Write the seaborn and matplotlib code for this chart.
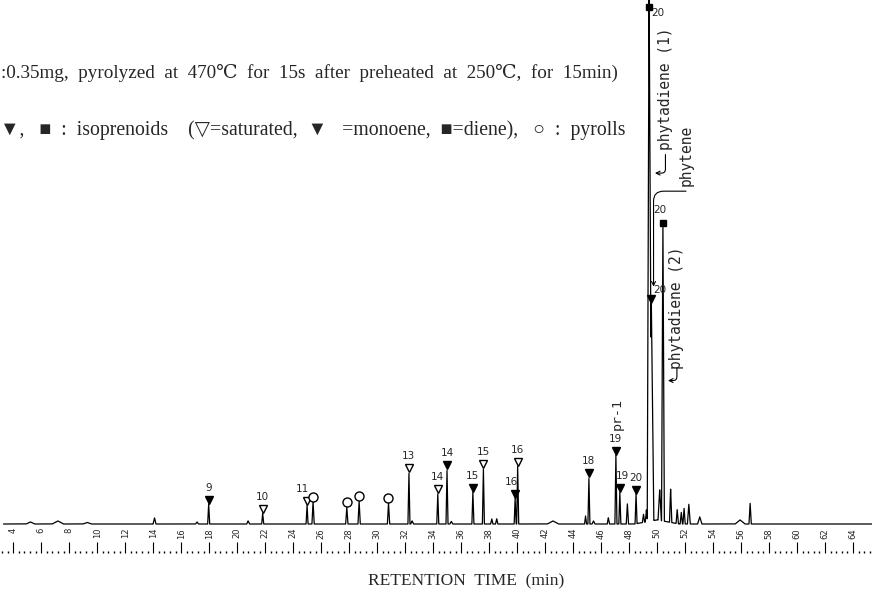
import numpy as np
import pandas as pd
import matplotlib
matplotlib.use("Agg")
import matplotlib.pyplot as plt
import seaborn as sns
from matplotlib.ticker import MultipleLocator

# ---- data (retention time in min, relative abundance %) ----
peak_rt = [5.22, 7.18, 9.28, 14.09, 17.13, 17.96, 20.78, 21.82, 24.99, 25.42,
           27.83, 28.71, 30.81, 32.27, 32.50, 34.33, 34.99, 35.30, 36.84, 37.59,
           38.19, 38.54, 39.86, 40.04, 42.56, 44.89, 45.13, 45.46, 46.52, 47.06,
           47.34, 47.88, 48.50, 49.03, 49.24, 49.43, 49.59, 50.19, 50.42, 50.97,
           51.44, 51.73, 51.93, 52.27, 53.05, 55.93, 56.65, 50.00]
peak_height = [0.4, 0.6, 0.3, 1.2, 0.4, 3.9, 0.6, 2.1, 3.7, 4.3,
               3.3, 4.5, 4.1, 10.1, 0.6, 6.0, 10.7, 0.5, 6.2, 10.9,
               1.0, 1.0, 5.0, 11.2, 0.6, 1.6, 9.1, 0.6, 1.2, 13.4,
               6.2, 3.9, 5.8, 1.6, 2.3, 99.6, 42.8, 6.0, 57.7, 6.6,
               2.7, 2.3, 3.1, 3.9, 1.4, 0.8, 4.1, 0.8]
peak_width = [0.3, 0.4, 0.3, 0.1, 0.1, 0.07, 0.1, 0.07, 0.07, 0.08,
              0.08, 0.08, 0.08, 0.07, 0.1, 0.07, 0.07, 0.1, 0.07, 0.07,
              0.08, 0.08, 0.07, 0.07, 0.4, 0.07, 0.07, 0.1, 0.08, 0.07,
              0.07, 0.08, 0.07, 0.08, 0.08, 0.13, 0.18, 0.12, 0.1, 0.08,
              0.08, 0.08, 0.08, 0.1, 0.15, 0.35, 0.08, 1.6]

# identified peaks: marker kind and carbon-number label
mark_rt = [17.96, 21.82, 24.99, 25.42, 27.83, 28.71, 30.81, 32.27, 34.33, 34.99,
           36.84, 37.59, 39.86, 40.04, 45.13, 47.06, 47.34, 48.50, 49.43, 49.59, 50.42]
mark_height = [3.9, 2.1, 3.7, 4.3, 3.3, 4.5, 4.1, 10.1, 6.0, 10.7,
               6.2, 10.9, 5.0, 11.2, 9.1, 13.4, 6.2, 5.8, 99.6, 42.8, 57.7]
mark_kind = ["mono", "sat", "sat", "pyr", "pyr", "pyr", "pyr", "sat", "sat", "mono",
             "mono", "sat", "mono", "sat", "mono", "mono", "mono", "mono", "diene", "mono", "diene"]
mark_label = ["9", "10", "11", "", "", "", "", "13", "14", "14",
              "15", "15", "16", "16", "18", "19", "19", "20", "20", "20", "20"]

tick_values = list(range(4, 66, 2))
tick_labels = [str(v) for v in tick_values]

# ---- figure ----
sns.set_style("white")
plt.rcParams["font.family"] = ["Liberation Serif", "DejaVu Serif", "DejaVu Sans"]

W, H = 872, 592
fig = plt.figure(figsize=(W / 100, H / 100), dpi=100)
ax = fig.add_axes([0, 39 / H, 1, 553 / H])
ax.set_xlim(3.05, 65.36)
ax.set_ylim(-5.62, 101.55)

t = np.arange(3.3, 65.36, 0.004)
sig = np.zeros_like(t)
for rt, h, w in zip(peak_rt, peak_height, peak_width):
    sig += np.clip(h * (1 - np.abs(t - rt) / w), 0, None)
df = pd.DataFrame({"rt": t, "abundance": sig})
sns.lineplot(data=df, x="rt", y="abundance", color="black", lw=0.9,
             ax=ax, estimator=None, sort=False)

# markers
styles = {
    "sat": dict(marker="v", mfc="white", ms=5.5, off=0.75),
    "mono": dict(marker="v", mfc="black", ms=5.5, off=0.75),
    "diene": dict(marker="s", mfc="black", ms=4.0, off=0.55),
    "pyr": dict(marker="o", mfc="white", ms=6.5, off=1.0),
}
label_offsets = {2: (-3, 3), 12: (-3, 3), 16: (2, 3), 18: (6, -10), 19: (6, 1), 20: (-2, 4)}
for i, (rt, h, kind, lab) in enumerate(zip(mark_rt, mark_height, mark_kind, mark_label)):
    st = styles[kind]
    ym = h + st["off"]
    ax.plot([rt], [ym], ls="none", marker=st["marker"], mfc=st["mfc"], mec="black",
            mew=1.0, ms=st["ms"])
    if lab:
        dx, dy = label_offsets.get(i, (0, 3))
        ax.annotate(lab, (rt, ym), xytext=(dx, dy + 2), textcoords="offset points",
                    ha="center", va="bottom", fontsize=7.5, family="DejaVu Sans")

# name labels with hook arrows
mono = dict(family="DejaVu Sans Mono", fontsize=10.5, rotation=90, ha="center", va="center")
ax.text(47.14, 21.3, "pr-1", family="DejaVu Sans Mono", fontsize=9.5, rotation=90,
        ha="center", va="center")
ax.text(50.60, 84.3, "phytadiene (1)", **mono)
ax.text(52.07, 71.5, "phytene", **mono)
ax.text(51.42, 41.9, "phytadiene (2)", **mono)
arrow = dict(arrowstyle="->", lw=0.8, color="black", shrinkA=0, shrinkB=0,
             mutation_scale=7)
ax.annotate("", xy=(49.85, 68.0), xytext=(50.60, 71.6),
            arrowprops=dict(connectionstyle="angle,angleA=90,angleB=0,rad=4", **arrow))
ax.annotate("", xy=(49.75, 46.0), xytext=(52.07, 64.5),
            arrowprops=dict(connectionstyle="angle,angleA=0,angleB=90,rad=10", **arrow))
ax.annotate("", xy=(50.78, 27.8), xytext=(51.42, 30.2),
            arrowprops=dict(connectionstyle="angle,angleA=90,angleB=0,rad=4", **arrow))

# axis styling
for s in ax.spines.values():
    s.set_visible(False)
ax.set_yticks([])
ax.set_ylabel("")
ax.set_xticks(tick_values)
ax.set_xticklabels(tick_labels, rotation=90, fontsize=6, family="DejaVu Sans")
ax.xaxis.set_minor_locator(MultipleLocator(0.4))
ax.tick_params(axis="x", which="major", direction="in", length=8, width=0.8,
               pad=-18, color="black", bottom=True)
ax.tick_params(axis="x", which="minor", direction="in", length=1.5, width=1.0,
               color="black", bottom=True)
ax.set_xlabel("RETENTION  TIME  (min)", fontsize=12.5)
ax.xaxis.set_label_coords(466 / W, -20 / 553)

# header text (cropped at the left edge as in the original)
fig.text(1 / W, 1 - 73 / H,
         ":0.35mg,  pyrolyzed  at  470\u2103  for  15s  after  preheated  at  250\u2103,  for  15min)",
         fontsize=13.8, va="center", ha="left")
fig.text(0.0, 1 - 130 / H,
         "\u25bc,   \u25a0  :  isoprenoids    (\u25bd=saturated,  \u25bc   =monoene,  \u25a0=diene),   \u25cb  :  pyrolls",
         fontsize=14.2, va="center", ha="left")

fig.savefig("out.png", dpi=100, facecolor="white")
